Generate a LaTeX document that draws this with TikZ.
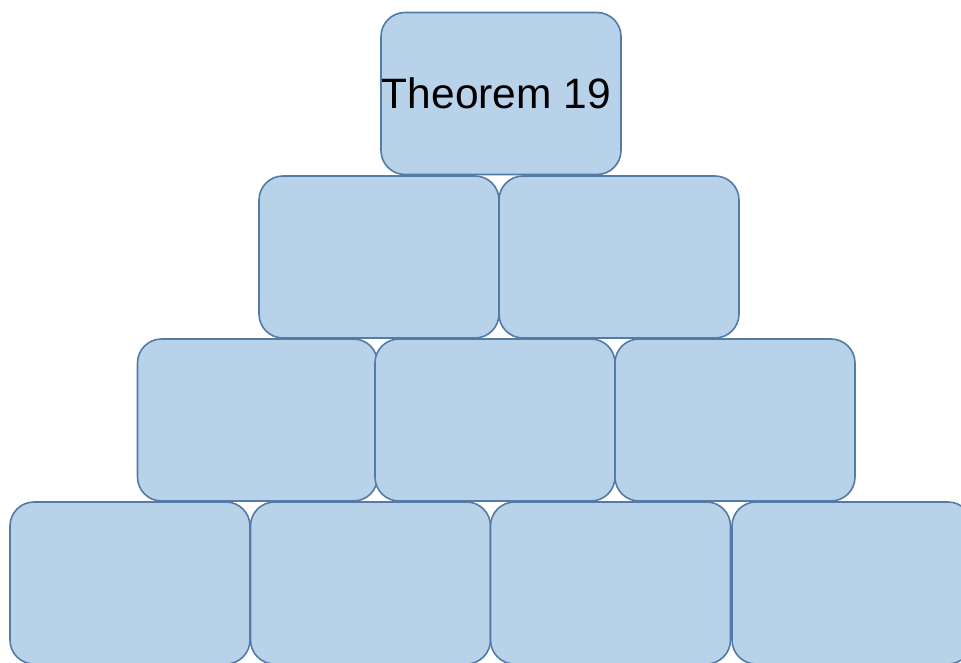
\documentclass[tikz,border=0pt]{standalone}
\usepackage{fontspec}
\setmainfont{Liberation Sans}
\definecolor{brickfill}{RGB}{184,210,234}
\definecolor{brickline}{RGB}{84,122,166}
\tikzset{brick/.style={draw=brickline,fill=brickfill,line width=1.6pt,rounded corners=24pt,
  minimum width=240pt,minimum height=162pt,inner sep=0pt,font=\fontsize{42.5}{50}\selectfont}}

\begin{document}
\begin{tikzpicture}[x=1pt,y=-1pt]
\useasboundingbox (0,0) rectangle (961,663);
\clip (0,0) rectangle (961,663);
% top
\node[brick] (top) at (501,93.5) {Theorem 19\hspace*{9pt}};
% second row
\node[brick] (ba) at (379,257) {};
\node[brick] (bb) at (619,257) {};
% third row
\node[brick] (ca) at (257.5,420) {};
\node[brick] (cb) at (495,420) {};
\node[brick] (cc) at (735,420) {};
% bottom row
\node[brick] (da) at (130,583) {};
\node[brick] (db) at (370.5,583) {};
\node[brick] (dc) at (610.5,583) {};
\node[brick] (dd) at (852,583) {};
\end{tikzpicture}
\end{document}
